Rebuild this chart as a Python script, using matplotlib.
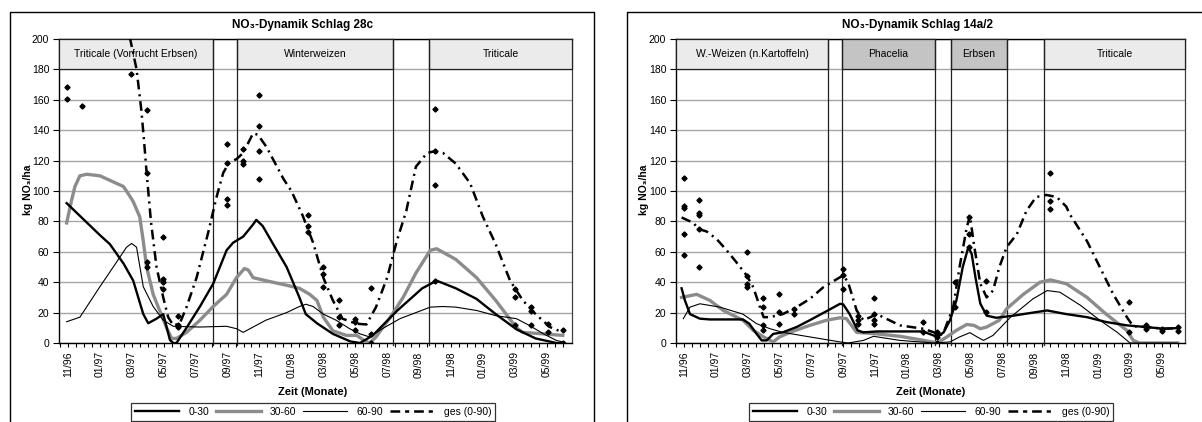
import numpy as np
import matplotlib
matplotlib.use('Agg')
import matplotlib.pyplot as plt
from matplotlib.patches import Rectangle
from matplotlib.lines import Line2D

plt.rcParams['font.family'] = ['Liberation Sans', 'DejaVu Sans']
plt.rcParams['font.size'] = 7.5
plt.rcParams['lines.scale_dashes'] = False

### x = months since 11/96

month_labels = ['11/96', '01/97', '03/97', '05/97', '07/97', '09/97', '11/97', '01/98',
                '03/98', '05/98', '07/98', '09/98', '11/98', '01/99', '03/99', '05/99']
series_names = ['0-30', '30-60', '60-90', 'ges (0-90)']

## Schlag 28c
a_x030 = [-0.08, 2.0, 2.63, 3.5, 4.09, 4.72, 5.03, 5.55, 5.97, 6.39, 6.6, 6.8, 7.43, 8.27, 9.1,
          9.94, 10.35, 10.98, 11.6, 11.8, 12.2, 12.86, 13.7, 14.5, 14.9, 15.6, 16.6, 17.7, 18.3,
          19.1, 20.6, 22.2, 23.1, 24.3, 25.6, 26.8, 28.1, 29.3, 30.6, 31.0]
a_y030 = [92, 71, 65, 52, 41, 19, 13, 16, 19, 2, 0, 0, 10, 24, 39,
          61, 66, 70, 78, 81, 77, 65, 50, 30, 19, 13, 6, 1, 0,
          5, 21, 36, 41, 36, 29, 19, 9, 3, 0, 0]
a_x3060 = [-0.08, 0.23, 0.44, 0.75, 1.17, 2.0, 2.84, 3.47, 3.67, 4.09, 4.5, 4.72, 4.93, 5.34,
           5.76, 6.18, 6.5, 6.8, 7.43, 8.27, 9.1, 9.94, 10.56, 11.06, 11.3, 11.6, 12.4, 13.7,
           14.5, 15.15, 15.6, 16.0, 16.6, 17.45, 18.1, 18.5, 18.9, 19.3, 20.2, 21.0, 21.8,
           22.7, 23.1, 24.3, 25.6, 26.8, 28.1, 28.5, 29.8, 31.0]
a_y3060 = [79, 94, 103, 110, 111, 110, 106, 103, 100, 93, 83, 67, 50, 32,
           21, 10, 3, 3, 7, 15, 24, 32, 43, 49, 48, 43, 41, 38,
           36, 32, 28, 17, 8, 5, 5, 2, 0, 4, 17, 30, 46,
           61, 62, 55, 43, 28, 10, 7, 6, 5]
a_x6090 = [-0.08, 0.75, 2.0, 2.84, 3.67, 3.99, 4.3, 4.72, 5.34, 5.97, 6.6, 8.27, 9.94, 10.56,
           10.98, 11.6, 12.4, 13.7, 14.5, 14.9, 15.36, 16.0, 16.8, 17.65, 18.3, 18.9, 19.7,
           20.8, 21.8, 22.7, 23.5, 24.3, 25.6, 26.8, 28.1, 28.9, 29.8, 30.6, 31.0]
a_y6090 = [14, 17, 37, 50, 63, 65.5, 63, 37, 24, 15, 11, 10.5, 11, 9.4,
           7, 10.5, 15, 20, 24, 25.5, 24, 19, 15, 9.4, 6, 4, 9.4,
           16, 20, 23.6, 24, 23.6, 21.4, 18, 16, 11.6, 6, 1.7, 0.7]
a_xges = [3.88, 4.3, 4.6, 4.76, 4.93, 5.2, 5.55, 5.97, 6.28, 6.6, 7.0, 7.43, 8.06, 8.79, 9.3,
          9.73, 10.1, 10.56, 10.98, 11.6, 11.9, 12.44, 13.5, 14.0, 14.7, 15.36, 16.0, 16.6,
          17.2, 18.06, 18.7, 19.3, 20.0, 20.6, 21.2, 21.8, 22.5, 22.9, 23.5, 24.3, 25.2, 26.0,
          26.8, 27.7, 28.5, 29.3, 30.2, 31.0]
a_yges = [201, 180, 153, 134, 112, 80, 50, 30, 17, 11.6, 12.7, 23.6, 43, 72.8, 95.6,
          112, 118.6, 121, 125, 138, 137, 129, 108, 100, 84, 66, 43, 28,
          16, 12.7, 12.2, 23.6, 43, 67, 87, 116, 125, 126, 125, 118, 105, 83,
          65, 41, 28, 19, 10.5, 7]
a_mx = [-0.04, -0.04, 0.9, 3.94, 4.93, 4.93, 4.93, 4.93, 5.93, 5.93, 5.93, 5.93, 6.9, 6.9, 6.9,
        9.98, 9.98, 9.98, 9.98, 10.98, 10.98, 10.98, 12.0, 12.0, 12.0, 12.0, 15.05, 15.05, 15.05,
        16.0, 16.0, 16.0, 17.0, 17.0, 17.0, 17.97, 17.97, 17.97, 19.0, 19.0, 19.0, 23.0, 23.0,
        23.0, 23.0, 28.0, 28.0, 28.0, 29.0, 29.0, 29.0, 30.1, 30.1, 31.0, 31.0]
a_my = [168.7, 160.7, 156, 177, 153, 112, 53, 50, 69.5, 42, 40, 35.6, 18, 11.6, 10.5,
        131, 118.5, 95, 91, 127.6, 120, 118, 163, 143, 126, 108, 84, 77, 73,
        50, 45.5, 37, 28, 17, 11.6, 16, 13.8, 8.3, 36.3, 6, 0, 154, 126,
        104, 41, 35.6, 30, 12, 23.6, 21, 12, 12.7, 7, 8.3, 0]
a_crops = ['Triticale (Vorfrucht Erbsen)', 'Winterweizen', 'Triticale']
a_crop_start = [-0.56, 10.58, 22.62]
a_crop_end = [9.08, 20.35, 31.58]
a_crop_dark = [False, False, False]

## Schlag 14a/2
b_x030 = [-0.15, 0.06, 0.38, 1.0, 1.63, 3.7, 4.1, 4.56, 4.88, 5.2, 5.6, 6.2, 7.07, 7.9, 8.96,
          9.8, 10.0, 10.4, 10.9, 11.26, 12.1, 14.2, 15.0, 15.4, 15.9, 16.3, 16.7, 17.1, 17.5,
          17.85, 18.06, 18.3, 18.6, 19.0, 19.6, 20.7, 21.9, 22.8, 24.0, 25.3, 26.5, 27.8, 29.0,
          30.1, 31.0]
b_y030 = [36, 28, 19, 16, 15.5, 15.5, 12.7, 6, 1.7, 1.7, 6, 7, 10.5, 15, 21,
          25.8, 25.4, 19, 8.3, 7, 7.6, 7.6, 7.6, 6, 4, 7, 15, 28, 50,
          63, 58.6, 43, 26, 18, 16.6, 18, 20, 21.4, 19, 17, 13.8, 11.6, 10.5,
          9.4, 9.8]
b_x3060 = [-0.15, 0.8, 1.63, 2.47, 3.7, 4.35, 5.0, 5.6, 6.0, 6.65, 7.9, 8.96, 9.8, 10.2, 10.84,
           11.5, 12.1, 13.56, 14.8, 15.9, 16.5, 17.1, 17.75, 18.2, 18.6, 19.0, 19.8, 20.25,
           21.3, 22.35, 23.0, 24.0, 25.3, 26.5, 27.8, 28.2, 28.6, 31.0]
b_y3060 = [30, 32, 28, 21.4, 15, 8.3, 4, 0.7, 4, 7, 11.6, 15, 16.6, 16, 7,
           6.5, 6, 4.4, 2.2, 0, 4, 8.3, 12.2, 11.6, 9.4, 10.5, 15, 22.5,
           32, 40, 41.5, 39, 30, 19, 8.3, 1.7, 0, 0]
b_x6090 = [-0.04, 0.38, 1.0, 2.26, 3.7, 4.56, 5.4, 6.2, 7.9, 9.8, 10.3, 11.26, 11.9, 13.56,
           15.7, 16.7, 17.3, 17.95, 18.4, 18.8, 19.4, 20.5, 21.9, 22.8, 23.6, 24.9, 26.1, 27.2,
           28.0, 31.0]
b_y6090 = [16, 23.6, 25.8, 23.6, 19, 12.7, 9.4, 7, 4, 0.7, 0, 1.7, 4.4, 1.7,
           0, 0.7, 4, 6.8, 4, 1.7, 5, 17, 29, 34.5, 33.4, 24.7, 15, 7,
           0, 0]
b_xges = [-0.15, 0.6, 0.9, 1.42, 2.05, 2.68, 3.3, 3.94, 4.35, 4.77, 5.0, 5.4, 6.2, 7.07, 7.9,
          8.75, 9.8, 10.0, 10.3, 10.84, 11.26, 11.7, 12.1, 13.56, 15.0, 15.7, 16.0, 16.3, 16.9,
          17.3, 17.75, 17.95, 18.2, 18.6, 19.0, 19.4, 19.8, 20.25, 20.9, 21.5, 22.1, 22.75,
          23.4, 24.0, 24.2, 25.3, 26.1, 26.95, 27.8, 28.2, 29.0, 30.1, 31.0]
b_yges = [82.6, 79, 75, 73.4, 68.4, 61, 53, 44.4, 36.7, 23.6, 17, 17, 19, 23.6, 29,
          36.7, 43.3, 44.4, 40, 21.4, 15, 17, 19, 11.6, 9.4, 7, 4.4, 7, 23.6,
          50, 76, 83.7, 65, 39, 30, 34.5, 50, 63, 71.7, 87, 96, 97.4,
          96, 89.7, 85, 67, 50, 32, 17, 11, 10.5, 9.4, 9.8]
b_mx = [0, 0, 0, 0, 0, 0.94, 0.94, 0.94, 0.94, 0.94, 3.98, 3.98, 3.98, 3.98, 4.94, 4.94, 4.94,
        4.94, 5.98, 5.98, 5.98, 6.9, 6.9, 9.96, 9.96, 9.96, 10.94, 10.94, 10.94, 11.95, 11.95,
        11.95, 11.95, 15.0, 15.0, 15.9, 15.9, 15.9, 17.0, 17.0, 17.9, 17.9, 17.9, 18.96, 18.96,
        22.97, 22.97, 22.97, 27.96, 27.96, 29.0, 29.0, 30.0, 30.0, 31.0, 31.0]
b_my = [108.8, 90, 89, 71.7, 58, 93.9, 85.8, 84.4, 75, 49.8, 60, 44.4, 39, 36.7, 29.7, 23.6, 11.6,
        8.3, 32, 20.3, 12.2, 22.5, 19, 48.7, 45, 35.6, 18, 15, 12.2, 29.7, 19,
        15, 12.2, 13.8, 7.2, 7.2, 4, 0, 40, 23.6, 83, 71.7, 63, 40.6, 20.3,
        111.6, 93.5, 88, 27, 7.2, 11.6, 9.4, 9.4, 7.9, 10.5, 7.9]
b_crops = ['W.-Weizen (n.Kartoffeln)', 'Phacelia', 'Erbsen', 'Triticale']
b_crop_start = [-0.5, 9.92, 16.76, 22.6]
b_crop_end = [9.04, 15.76, 20.28, 31.45]
b_crop_dark = [False, True, True, False]


def draw_panel(ax, x030, y030, x3060, y3060, x6090, y6090, xges, yges, mx, my,
               crops, starts, ends, dark, xlim):
    ax.plot(x3060, y3060, color='#8c8c8c', lw=2.4, zorder=4)
    ax.plot(x6090, y6090, color='black', lw=0.8, zorder=4)
    ax.plot(x030, y030, color='black', lw=1.7, zorder=5)
    ax.plot(xges, yges, color='black', lw=1.8, dashes=(7, 3.5, 1.5, 3.5), zorder=5)
    ax.plot(mx, my, ls='none', marker='D', ms=2.6, color='black', zorder=6)

    for name, x0, x1, dk in zip(crops, starts, ends, dark):
        fc = '#c4c4c4' if dk else '#ebebeb'
        ax.add_patch(Rectangle((x0, 180), x1 - x0, 20, facecolor=fc, edgecolor='#202020',
                               lw=0.9, zorder=3, clip_on=False))
        ax.text((x0 + x1) / 2, 190, name, ha='center', va='center', fontsize=7.5, zorder=7)
    bounds = sorted(set(starts + ends) - {xlim[0], xlim[1]})
    for b in bounds:
        ax.plot([b, b], [-1.5, 200], color='#202020', lw=0.9, zorder=3, clip_on=False)

    ax.set_xlim(*xlim)
    ax.set_ylim(0, 200)
    ax.set_yticks(np.arange(0, 201, 20))
    ax.set_xticks(np.arange(0, 31, 2))
    ax.set_xticklabels(month_labels, rotation=90, fontsize=7.5)
    ax.set_xticks(np.arange(-0.5, 31.5, 0.5), minor=True)
    ax.tick_params(axis='x', which='both', direction='out', length=3, width=0.8, pad=3)
    ax.tick_params(axis='y', which='major', direction='out', length=4, width=0.8, pad=3,
                   labelsize=7.5)
    ax.yaxis.grid(True, color='#a6a6a6', lw=1.0, zorder=0)
    ax.set_axisbelow(True)
    for side in ['left', 'bottom', 'top']:
        ax.spines[side].set_color('black')
        ax.spines[side].set_linewidth(1.0)
    ax.spines['right'].set_color('#404040')
    ax.spines['right'].set_linewidth(0.9)


fig = plt.figure(figsize=(12.02, 4.22), dpi=100)
W, H = 1202.0, 422.0

ax1 = fig.add_axes([59 / W, 1 - 343 / H, (572 - 59) / W, (343 - 39) / H])
draw_panel(ax1, a_x030, a_y030, a_x3060, a_y3060, a_x6090, a_y6090, a_xges, a_yges,
           a_mx, a_my, a_crops, a_crop_start, a_crop_end, a_crop_dark, (-0.56, 31.58))
ax2 = fig.add_axes([676 / W, 1 - 343 / H, (1185 - 676) / W, (343 - 39) / H])
draw_panel(ax2, b_x030, b_y030, b_x3060, b_y3060, b_x6090, b_y6090, b_xges, b_yges,
           b_mx, b_my, b_crops, b_crop_start, b_crop_end, b_crop_dark, (-0.5, 31.45))

# outer chart frames
for xs, ys in [([10, 10, 594, 594], [424, 12, 12, 424]), ([1204, 627, 627], [12, 12, 424])]:
    fig.add_artist(Line2D([x / W for x in xs], [1 - y / H for y in ys], color='black',
                          lw=1.0, transform=fig.transFigure))

titles = ['NO₃-Dynamik Schlag 28c', 'NO₃-Dynamik Schlag 14a/2']
for t, cx, lx, gx in zip(titles, [303, 918], [28, 644], [313, 931]):
    fig.text(cx / W, 1 - 25 / H, t, ha='center', va='center', fontsize=8.5, fontweight='bold')
    fig.text(lx / W, 1 - 190 / H, 'kg NO₃/ha', ha='center', va='center', rotation=90,
             fontsize=7.5, fontweight='bold')
    fig.text(gx / W, 1 - 392 / H, 'Zeit (Monate)', ha='center', va='center', fontsize=8,
             fontweight='bold')
    handles = [Line2D([], [], color='black', lw=1.7),
               Line2D([], [], color='#8c8c8c', lw=2.4),
               Line2D([], [], color='black', lw=0.8),
               Line2D([], [], color='black', lw=1.8, dashes=(7, 3.5, 3, 3.5))]
    leg = fig.legend(handles, series_names, loc='center', bbox_to_anchor=(gx / W, 1 - 412 / H),
                     ncol=4, fontsize=7.5, frameon=True, fancybox=False, edgecolor='black',
                     borderpad=0.35, handlelength=4.3, handletextpad=0.9, columnspacing=0.6,
                     borderaxespad=0)
    leg.get_frame().set_linewidth(0.9)

fig.savefig('out.png', dpi=100)
